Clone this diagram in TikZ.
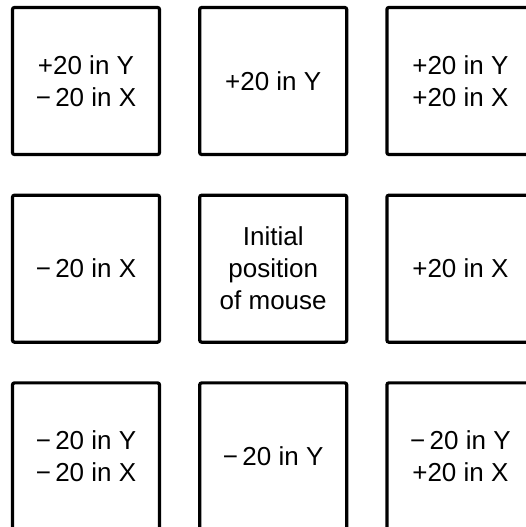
\documentclass[tikz,border=0pt]{standalone}
\usepackage{fontspec}
\setmainfont{Liberation Sans}
\usetikzlibrary{positioning}

\begin{document}
\begin{tikzpicture}[
  x=1pt, y=1pt,
  node distance=37.5pt and 37pt,
  cell/.style={draw, line width=3.2pt, rounded corners=2pt, align=center,
               minimum size=147pt, inner sep=0pt,
               font=\fontsize{26}{32}\selectfont}
]
\useasboundingbox (0,0) rectangle (525,527);

% top row
\node[cell] (tl) at (86,446) {+20 in Y\\−\,20 in X};
\node[cell, right=of tl] (tc) {+20 in Y};
\node[cell, right=of tc] (tr) {+20 in Y\\+20 in X};

% middle row
\node[cell, below=of tl] (ml) {−\,20 in X};
\node[cell, right=of ml] (mc) {Initial\\position\\of mouse};
\node[cell, right=of mc] (mr) {+20 in X};

% bottom row
\node[cell, below=of ml] (bl) {−\,20 in Y\\−\,20 in X};
\node[cell, right=of bl] (bc) {−\,20 in Y};
\node[cell, right=of bc] (br) {−\,20 in Y\\+20 in X};
\end{tikzpicture}
\end{document}
